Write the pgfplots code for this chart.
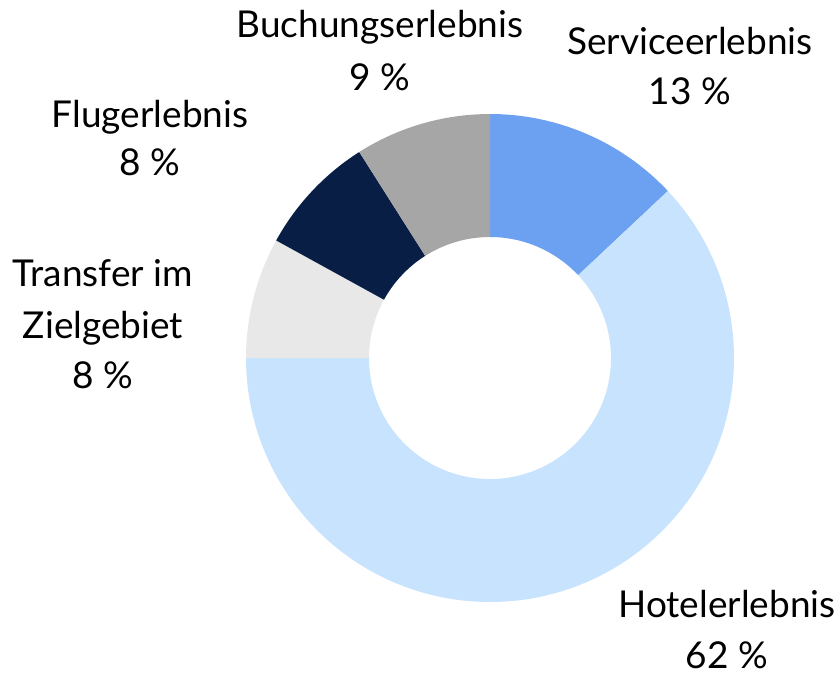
\documentclass[border=0pt]{standalone}
\usepackage{pgfplots}
\pgfplotsset{compat=1.18}
\usepackage{pgfplotstable}
\usepackage{fontspec}
\setmainfont{Lato}

\definecolor{cServ}{HTML}{6CA0F0}
\definecolor{cHotel}{HTML}{C8E3FD}
\definecolor{cTrans}{HTML}{E8E8E8}
\definecolor{cFlug}{HTML}{081E45}
\definecolor{cBuch}{HTML}{A6A6A6}

% shares in percent, clockwise from 12 o'clock
\pgfplotstableread{
name value col
Service 13 cServ
Hotel 62 cHotel
Transfer 8 cTrans
Flug 8 cFlug
Buchung 9 cBuch
}\donutdata

\begin{document}
\begin{tikzpicture}
\begin{axis}[
    scale only axis,
    width=420pt, height=338.5pt,
    xmin=0, xmax=840, ymin=0, ymax=677,
    y dir=reverse,
    hide axis,
    clip=false,
]
% keep the full frame as the picture's extent
\path (axis cs:0,0) rectangle (axis cs:840,677);
\pgfplotsextra{
  \gdef\startang{90}
  \foreach \i in {0,...,4}{
    \pgfplotstablegetelem{\i}{value}\of\donutdata \let\val\pgfplotsretval
    \pgfplotstablegetelem{\i}{col}\of\donutdata \let\col\pgfplotsretval
    \pgfmathsetmacro\endang{\startang-3.6*\val}
    \fill[fill=\col] (axis cs:{490+244*cos(\startang)},{358-244*sin(\startang)})
      arc[start angle=\startang, end angle=\endang, radius=122pt]
      -- (axis cs:{490+121*cos(\endang)},{358-121*sin(\endang)})
      arc[start angle=\endang, end angle=\startang, radius=60.5pt] -- cycle;
    \xdef\startang{\endang}
  }
}
\begin{scope}[every node/.style={anchor=base, inner sep=0pt, font=\fontsize{18.5}{22}\selectfont}]
\node at (axis cs:380,37) {Buchungserlebnis};
\node at (axis cs:380,90) {9 \%};
\node at (axis cs:690,54) {Serviceerlebnis};
\node at (axis cs:690,104) {13 \%};
\node at (axis cs:150,127) {Flugerlebnis};
\node at (axis cs:150,175) {8 \%};
\node at (axis cs:103,286) {Transfer im};
\node at (axis cs:103,338) {Zielgebiet};
\node at (axis cs:103,388) {8 \%};
\node at (axis cs:727,617) {Hotelerlebnis};
\node at (axis cs:727,668) {62 \%};
\end{scope}
\end{axis}
\end{tikzpicture}
\end{document}
